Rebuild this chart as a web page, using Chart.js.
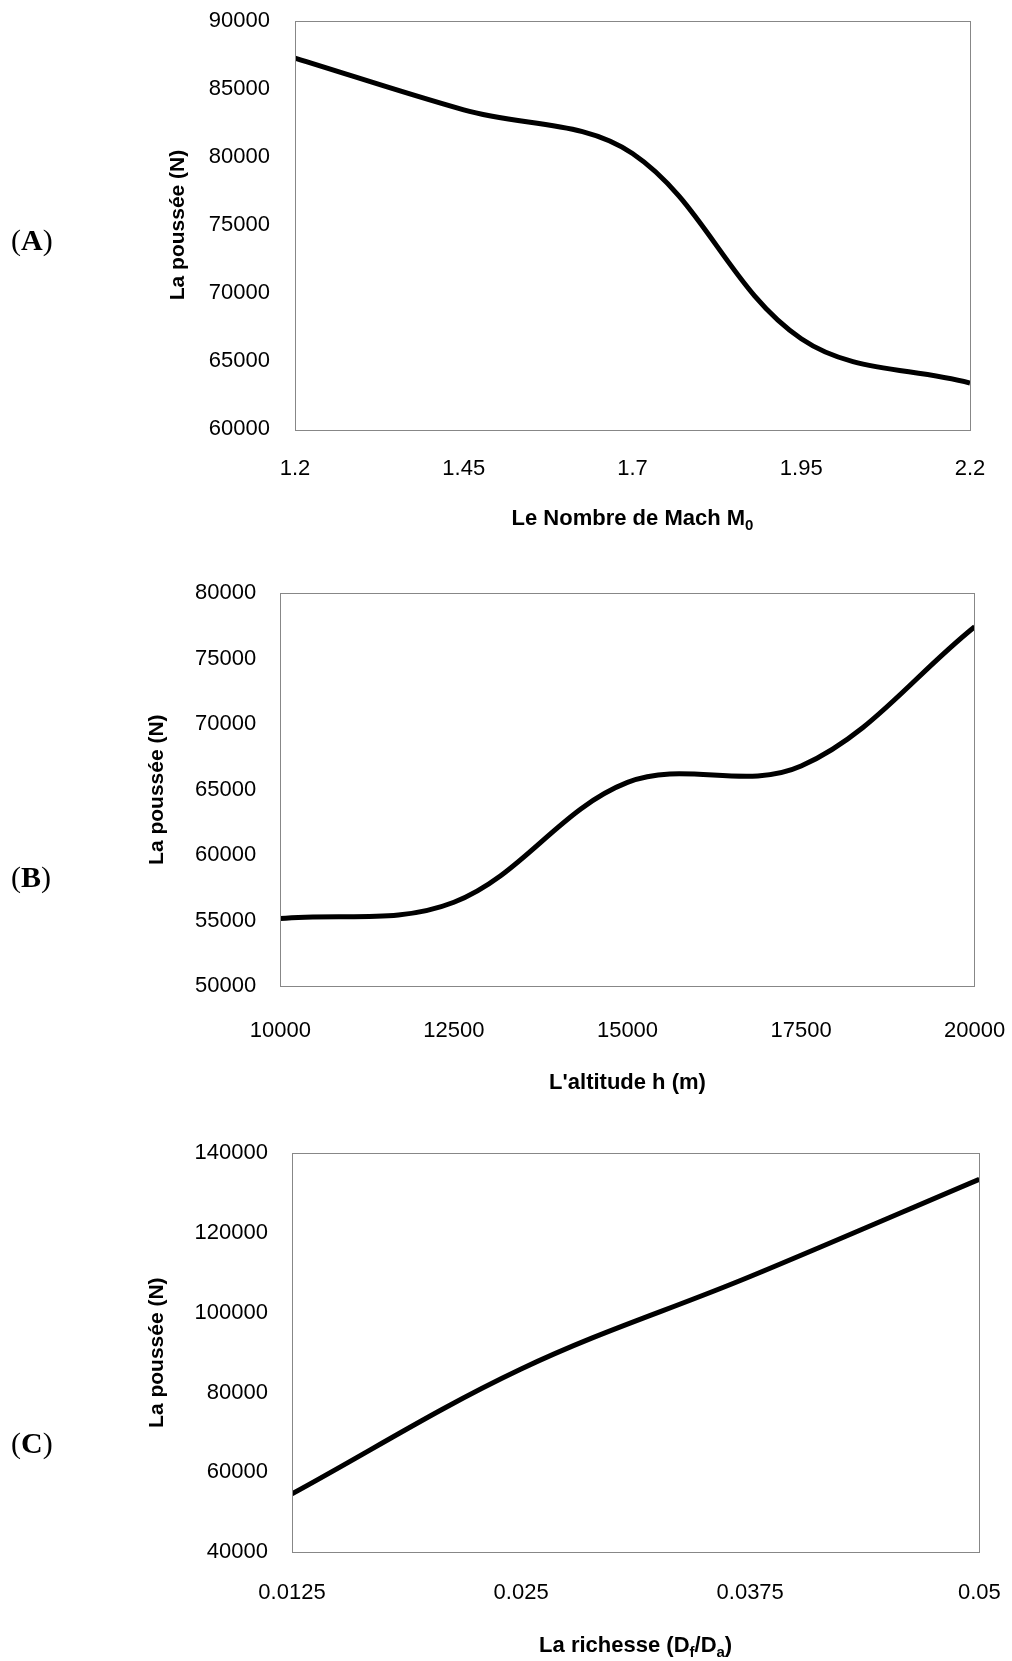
<!DOCTYPE html>
<html>
<head>
<meta charset="utf-8">
<script src="https://cdn.jsdelivr.net/npm/chart.js@4.4.1/dist/chart.umd.min.js"></script>
<style>
body { margin: 0; background: #fff; width: 1012px; height: 1661px; position: relative; overflow: hidden; }
.panel { position: absolute; left: 0; width: 1012px; }
canvas { display: block; }
</style>
</head>
<body>
<div class="panel" style="top:0;height:545px"><canvas id="chartA" width="1012" height="545"></canvas></div>
<div class="panel" style="top:545px;height:560px"><canvas id="chartB" width="1012" height="560"></canvas></div>
<div class="panel" style="top:1105px;height:556px"><canvas id="chartC" width="1012" height="556"></canvas></div>
<script>
// (A) thrust vs Mach number
const machA = [1.2, 1.45, 1.7, 1.95, 2.2];
const thrustA = [87250, 83450, 80250, 66650, 63400];
const xTicksA = [1.2, 1.45, 1.7, 1.95, 2.2];
const yTicksA = [60000, 65000, 70000, 75000, 80000, 85000, 90000];

// (B) thrust vs altitude
const altB = [10000, 12500, 15000, 17500, 20000];
const thrustB = [55150, 56400, 65550, 66800, 77450];
const xTicksB = [10000, 12500, 15000, 17500, 20000];
const yTicksB = [50000, 55000, 60000, 65000, 70000, 75000, 80000];

// (C) thrust vs fuel/air ratio
const richC = [0.0125, 0.025, 0.0375, 0.05];
const thrustC = [54600, 85900, 109100, 133500];
const xTicksC = [0.0125, 0.025, 0.0375, 0.05];
const yTicksC = [40000, 60000, 80000, 100000, 120000, 140000];

const FONT = "'Liberation Sans', Arial, sans-serif";
Chart.defaults.font.family = FONT;
Chart.defaults.color = '#000';

// plot frame, x title with subscripts, panel letter
const extras = {
    id: 'extras',
    afterDatasetsDraw(chart) {
        const { ctx, chartArea: a } = chart;
        ctx.save();
        ctx.strokeStyle = '#878787';
        ctx.lineWidth = 1;
        ctx.strokeRect(Math.round(a.left) + 0.5, Math.round(a.top) + 0.5,
            Math.round(a.right - a.left), Math.round(a.bottom - a.top));
        ctx.restore();
    },
    afterDraw(chart, args, opts) {
        const { ctx, chartArea: a } = chart;
        ctx.save();
        ctx.fillStyle = '#000';
        ctx.textBaseline = 'alphabetic';
        const main = 'bold 22px ' + FONT;
        const sub = 'bold 15px ' + FONT;
        let total = 0;
        opts.xTitle.forEach(([t, s]) => {
            ctx.font = s ? sub : main;
            total += ctx.measureText(t).width;
        });
        let x = (a.left + a.right) / 2 - total / 2;
        const base = opts.xTitleY + 8;
        opts.xTitle.forEach(([t, s]) => {
            ctx.font = s ? sub : main;
            ctx.fillText(t, x, s ? base + 5 : base);
            x += ctx.measureText(t).width;
        });

        // "(A)" style label, letter in bold
        const py = opts.panelY + 10;
        let px = 11;
        ctx.font = "30px 'Liberation Serif', serif";
        ctx.fillText('(', px, py);
        px += ctx.measureText('(').width;
        ctx.font = "bold 30px 'Liberation Serif', serif";
        ctx.fillText(opts.panel, px, py);
        px += ctx.measureText(opts.panel).width;
        ctx.font = "30px 'Liberation Serif', serif";
        ctx.fillText(')', px, py);
        ctx.restore();
    }
};

function noPad(s) {
    s.paddingTop = 0;
    s.paddingBottom = 0;
    s.paddingLeft = 0;
    s.paddingRight = 0;
}

function makeChart(id, xs, ys, xTicks, yTicks, cfg) {
    const canvas = document.getElementById(id);
    return new Chart(canvas, {
        type: 'line',
        data: {
            datasets: [{
                data: xs.map((x, i) => ({ x: x, y: ys[i] })),
                borderColor: '#000',
                borderWidth: 5,
                pointRadius: 0,
                tension: 0.36,
                fill: false,
                clip: 0
            }]
        },
        options: {
            responsive: false,
            devicePixelRatio: 1,
            animation: false,
            layout: { padding: { left: 0, right: canvas.width - cfg.right, top: cfg.top, bottom: 0 } },
            plugins: {
                legend: { display: false },
                tooltip: { enabled: false },
                extras: cfg.extras
            },
            scales: {
                x: {
                    type: 'linear',
                    min: xTicks[0],
                    max: xTicks[xTicks.length - 1],
                    grid: { display: false, drawTicks: false },
                    border: { display: false },
                    afterBuildTicks: s => { s.ticks = xTicks.map(v => ({ value: v })); },
                    afterFit: s => { s.height = canvas.height - cfg.bottom; noPad(s); },
                    ticks: {
                        autoSkip: false,
                        maxRotation: 0,
                        padding: cfg.xPad,
                        font: { size: 22 },
                        callback: v => String(v)
                    }
                },
                y: {
                    type: 'linear',
                    min: yTicks[0],
                    max: yTicks[yTicks.length - 1],
                    grid: { display: false, drawTicks: false },
                    border: { display: false },
                    afterBuildTicks: s => { s.ticks = yTicks.map(v => ({ value: v })); },
                    afterFit: s => { s.width = cfg.left; noPad(s); },
                    ticks: {
                        padding: cfg.yPad,
                        font: { size: 22 },
                        callback: v => String(v)
                    },
                    title: {
                        display: true,
                        text: 'La poussée (N)',
                        font: { size: 21, weight: 'bold' },
                        padding: { top: cfg.yTitleX - 12.6, bottom: 0 }
                    }
                }
            }
        },
        plugins: [extras]
    });
}

makeChart('chartA', machA, thrustA, xTicksA, yTicksA, {
    left: 295, right: 970, top: 20.7, bottom: 429.3, xPad: 26.5, yPad: 25, yTitleX: 178,
    extras: { xTitle: [['Le Nombre de Mach M', false], ['0', true]], xTitleY: 517, panel: 'A', panelY: 240 }
});

makeChart('chartB', altB, thrustB, xTicksB, yTicksB, {
    left: 280.3, right: 974.7, top: 48.3, bottom: 441, xPad: 31.5, yPad: 24, yTitleX: 157,
    extras: { xTitle: [["L'altitude h (m)", false]], xTitleY: 536, panel: 'B', panelY: 332 }
});

makeChart('chartC', richC, thrustC, xTicksC, yTicksC, {
    left: 292, right: 979.3, top: 48.3, bottom: 447, xPad: 27.8, yPad: 24, yTitleX: 157,
    extras: { xTitle: [['La richesse (D', false], ['f', true], ['/D', false], ['a', true], [')', false]], xTitleY: 538.5, panel: 'C', panelY: 338 }
});
</script>
</body>
</html>
